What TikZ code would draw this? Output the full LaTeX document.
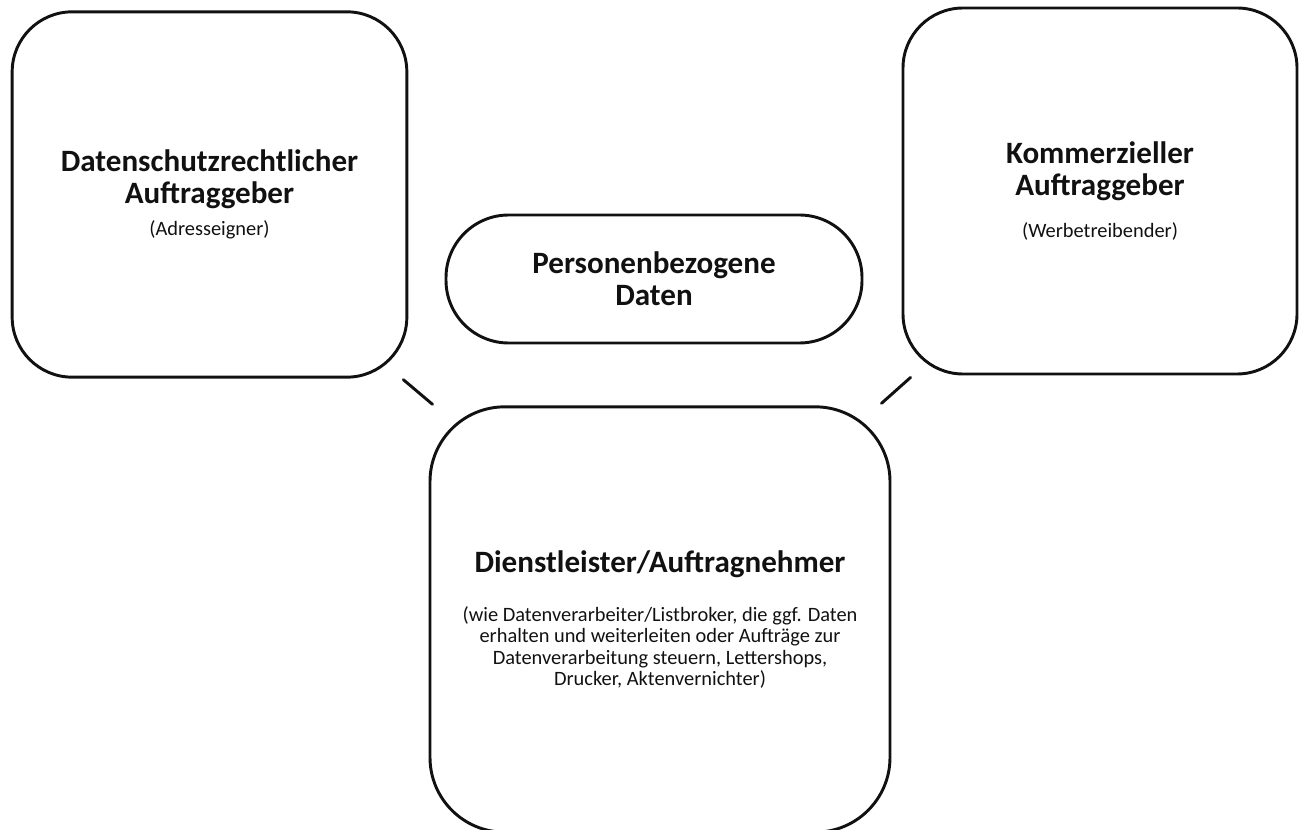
\documentclass[tikz,border=0pt]{standalone}
\usepackage{fontspec}
\setmainfont{Carlito}
\usepackage{tikz}
\usetikzlibrary{positioning,calc}
\usepackage{xcolor}
\definecolor{ink}{HTML}{111111}
\newcommand\headfont{\fontsize{23.3}{24}\selectfont\bfseries}
\newcommand\notefont{\fontsize{15.3}{15}\selectfont\mdseries}

\begin{document}
\begin{tikzpicture}[x=0.75pt, y=-0.75pt, line width=2.2pt, color=ink,
  party/.style={draw, rounded corners=45pt, align=center, inner sep=0pt, font=\headfont},
  tie/.style={line width=2.2pt, line cap=round}]
\useasboundingbox (0,0) rectangle (1303,830);
\node[party, minimum width=296pt, minimum height=274pt] (ctrl) at (209.5,194.5)
  {Datenschutzrechtlicher\\Auftraggeber\\[0.5pt]\notefont (Adresseigner)};
\node[party, minimum width=295.5pt, minimum height=274.5pt] (comm) at (1100,191)
  {Kommerzieller\\Auftraggeber\\[8pt]\notefont (Werbetreibender)};
\node[party, rounded corners=47pt, minimum width=312pt, minimum height=96pt] (data) at (654,279)
  {Personenbezogene\\Daten};
\node[party, rounded corners=56pt, minimum width=345pt, minimum height=319pt] (prov) at (660,619.5)
  {Dienstleister/Auftragnehmer\\[13pt]
   \notefont (wie Datenverarbeiter/Listbroker, die ggf. Daten\\[-8pt]
   \notefont erhalten und weiterleiten oder Aufträge zur\\[-8pt]
   \notefont Datenverarbeitung steuern, Lettershops,\\[-8pt]
   \notefont Drucker, Aktenvernichter)};
% Verbindungen
\draw[tie] ([shift={(-5,1)}]ctrl.south east) -- ([shift={(4,-1)}]prov.north west);
\draw[tie] ([shift={(-10,-2)}]prov.north east) -- ([shift={(9,2)}]comm.south west);
\end{tikzpicture}
\end{document}
